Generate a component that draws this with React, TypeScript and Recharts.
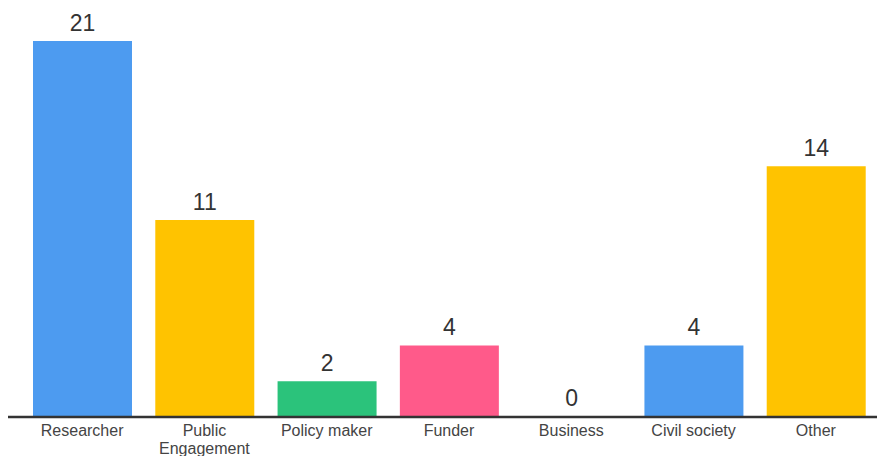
import { Bar, BarChart, Cell, LabelList, Text, XAxis, YAxis } from "recharts";

const categories = ["Researcher", "Public Engagement", "Policy maker", "Funder", "Business", "Civil society", "Other"];
const counts = [21, 11, 2, 4, 0, 4, 14];
const barColors = ["#4D9BF0", "#FFC300", "#2BC37B", "#FF5A8A", "#4D9BF0", "#4D9BF0", "#FFC300"];

const data = categories.map((name, i) => ({ name, count: counts[i] }));

const FONT = "'Liberation Sans', Arial, sans-serif";

function CategoryTick({ x, y, payload }: any) {
  return (
    <Text
      x={x}
      y={y}
      width={105}
      textAnchor="middle"
      verticalAnchor="start"
      lineHeight={18}
      fontSize={16}
      fontFamily={FONT}
      fill="#444"
    >
      {payload.value}
    </Text>
  );
}

export default function App() {
  return (
    <div style={{ position: "absolute", left: 0, top: 0, background: "#fff" }}>
      <BarChart width={878} height={456} data={data} margin={{ top: 41, right: 1, bottom: 0, left: 8 }}>
        <XAxis
          dataKey="name"
          height={39}
          padding={{ left: 13, right: 0 }}
          tickLine={false}
          axisLine={{ stroke: "#333", strokeWidth: 2.5 }}
          interval={0}
          tick={<CategoryTick />}
        />
        <YAxis hide domain={[0, 21]} />
        {/* minPointSize keeps the zero bar (hidden under the axis) so its label still shows */}
        <Bar dataKey="count" barSize={99} minPointSize={1} isAnimationActive={false}>
          {data.map((entry, i) => (
            <Cell key={entry.name} fill={barColors[i]} />
          ))}
          <LabelList dataKey="count" position="top" offset={10} fill="#333" fontSize={23} fontFamily={FONT} />
        </Bar>
      </BarChart>
    </div>
  );
}
